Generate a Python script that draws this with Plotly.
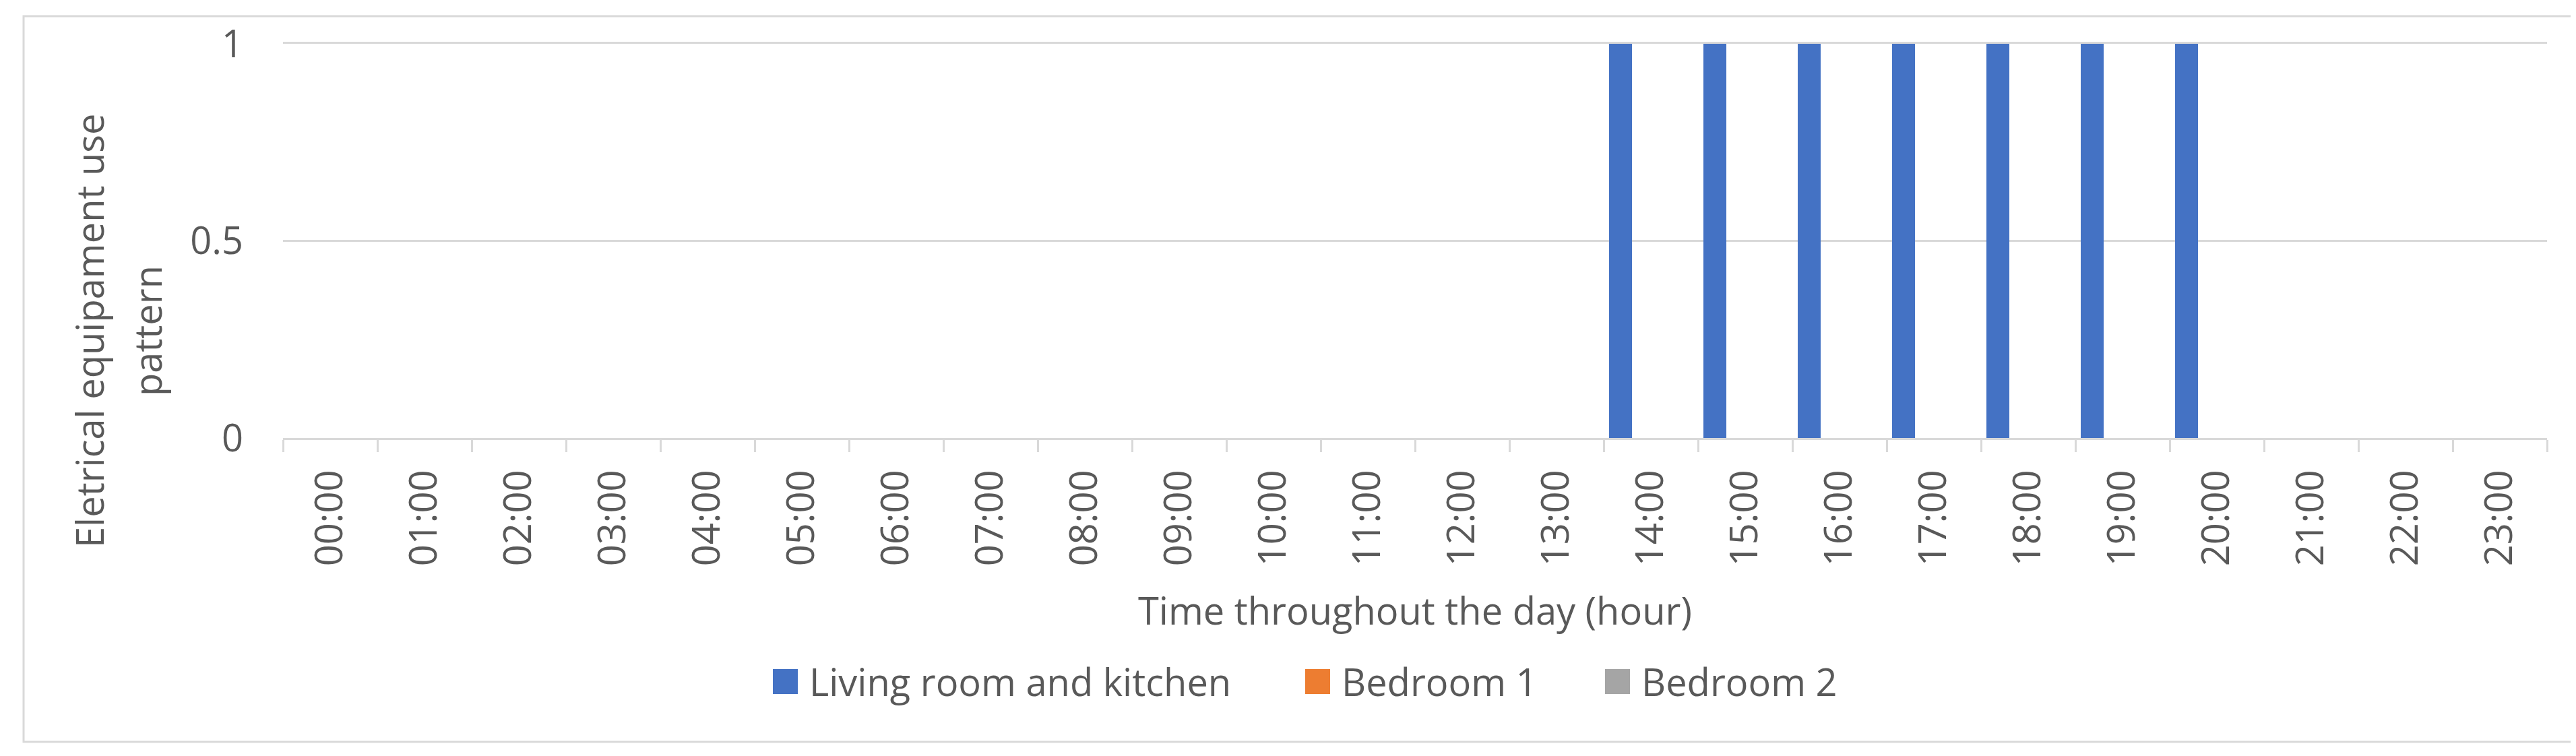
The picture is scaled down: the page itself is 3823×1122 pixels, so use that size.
import plotly.graph_objects as go

# categories: hours of the day
hours = ["00:00", "01:00", "02:00", "03:00", "04:00", "05:00", "06:00", "07:00",
         "08:00", "09:00", "10:00", "11:00", "12:00", "13:00", "14:00", "15:00",
         "16:00", "17:00", "18:00", "19:00", "20:00", "21:00", "22:00", "23:00"]

# use pattern per room (0 = off, 1 = on)
living_kitchen = [0, 0, 0, 0, 0, 0, 0, 0, 0, 0, 0, 0, 0, 0,
                  1, 1, 1, 1, 1, 1, 1, 0, 0, 0]
bedroom_1 = [0, 0, 0, 0, 0, 0, 0, 0, 0, 0, 0, 0, 0, 0,
             0, 0, 0, 0, 0, 0, 0, 0, 0, 0]
bedroom_2 = [0, 0, 0, 0, 0, 0, 0, 0, 0, 0, 0, 0, 0, 0,
             0, 0, 0, 0, 0, 0, 0, 0, 0, 0]

series_names = ["Living room and kitchen", "Bedroom 1", "Bedroom 2"]
series_values = [living_kitchen, bedroom_1, bedroom_2]
series_colors = ["#4472C4", "#ED7D31", "#A5A5A5"]

y_ticks = [0, 0.5, 1]
y_ticktext = ["0", "0.5", "1"]

# page geometry (pixels)
W, H = 3823, 1122
L, R, T, B = 412, 51, 57, 480
PW, PH = W - L - R, H - T - B
FONT = "Open Sans"
TXT = "#595959"
GRID = "#d9d9d9"


def px(x):
    return (x - L) / PW


def py(y):
    return (H - B - y) / PH


fig = go.Figure()
for name, vals, col in zip(series_names, series_values, series_colors):
    fig.add_trace(go.Bar(x=hours, y=vals, name=name, marker_color=col,
                         marker_line_width=0, showlegend=False))

fig.update_layout(
    width=W, height=H,
    margin=dict(l=L, r=R, t=T, b=B, autoexpand=False),
    paper_bgcolor="white", plot_bgcolor="white",
    font=dict(family=FONT, size=56, color=TXT),
    barmode="group", bargap=0.036, bargroupgap=0.244,
)

fig.update_xaxes(
    type="category", categoryorder="array", categoryarray=hours,
    showline=True, linecolor=GRID, linewidth=3, mirror=True,
    ticks="outside", tickson="boundaries", ticklen=18, tickwidth=3, tickcolor=GRID,
    tickangle=-90, tickfont=dict(size=56, color=TXT), ticklabelstandoff=22,
    showgrid=False, automargin=False,
)
fig.update_yaxes(
    range=[0, 1], tickvals=y_ticks, ticktext=y_ticktext,
    showgrid=True, gridcolor=GRID, gridwidth=3,
    zeroline=False, showline=False, ticks="",
    tickfont=dict(size=56, color=TXT), ticklabelstandoff=58,
    automargin=False,
)

# chart border
fig.add_shape(type="rect", xref="paper", yref="paper",
              x0=px(27), x1=px(3812), y0=py(1093), y1=py(16),
              line=dict(color=GRID, width=3), fillcolor="rgba(0,0,0,0)", layer="below")

# y axis title, two lines as in the original
for line, cx in zip(["Eletrical equipament use", "pattern"], [124, 210]):
    fig.add_annotation(text=line, textangle=-90,
                       xref="paper", yref="paper", x=px(cx), y=py(483),
                       xanchor="center", yanchor="middle", showarrow=False,
                       font=dict(size=56, color=TXT, family=FONT))

fig.add_annotation(text="Time throughout the day (hour)",
                   xref="paper", yref="paper", x=0.5, y=py(897),
                   xanchor="center", yanchor="middle", showarrow=False,
                   font=dict(size=56, color=TXT, family=FONT))

# legend (square swatches like the original)
legend_x = [1139, 1929, 2374]
for name, col, lx in zip(series_names, series_colors, legend_x):
    fig.add_shape(type="rect", xref="paper", yref="paper",
                  x0=px(lx), x1=px(lx + 37), y0=py(1022), y1=py(985),
                  line=dict(width=0), fillcolor=col)
    fig.add_annotation(text=name, xref="paper", yref="paper",
                       x=px(lx + 52), y=py(1003), xanchor="left", yanchor="middle",
                       showarrow=False, font=dict(size=56, color=TXT, family=FONT))

fig.write_html("out.html")
